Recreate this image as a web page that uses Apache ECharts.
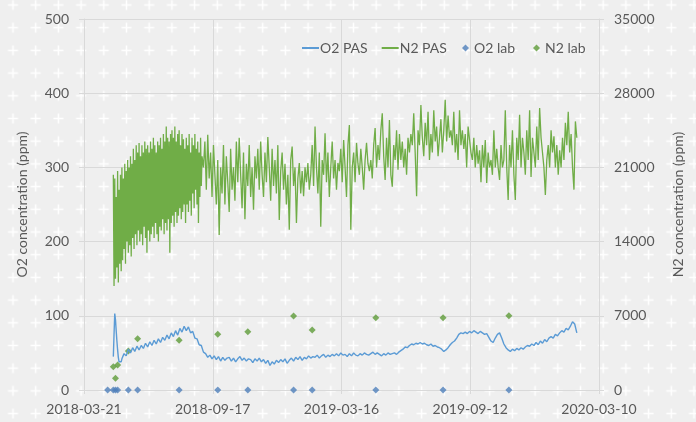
<!DOCTYPE html>
<html>
<head>
<meta charset="utf-8">
<script src="https://cdn.jsdelivr.net/npm/echarts@6/dist/echarts.min.js"></script>
<style>
html,body{margin:0;padding:0;background:#efefef;}
#wrap{position:relative;width:696px;height:422px;background:#efefef;overflow:hidden;}
#chart{position:absolute;left:0;top:0;width:696px;height:422px;z-index:2;}
#underlay{position:absolute;left:0;top:0;pointer-events:none;z-index:1;}
</style>
</head>
<body>
<div id="wrap">
<svg id="underlay" width="696" height="422">
<defs>
<pattern id="cross" x="1.65" y="-6.35" width="22.7" height="22.7" patternUnits="userSpaceOnUse">
<path d="M6.35 11.35 H16.35 M11.35 6.35 V16.35" stroke="#ffffff" stroke-width="1.5" fill="none"/>
</pattern>
</defs>
<rect x="0" y="0" width="696" height="422" fill="url(#cross)"/>
</svg>
<div id="chart"></div>
</div>
<script>
// X axis: days since 2018-03-21, major unit 180 days
const tickLabels = ['2018-03-21', '2018-09-17', '2019-03-16', '2019-09-12', '2020-03-10'];

// O2 PAS (ppm, left axis): daily values from day 41 (start spike)
const o2PasSpikeStart = 41;
const o2PasSpike = [45, 75, 103, 95, 80, 66, 54, 44, 38, 36, 40, 38];
// O2 PAS every 3 days from day 53
const o2Pas3DayStart = 53;
const o2Pas3Day = [
  42, 49, 46, 55, 50, 57, 52, 59, 54, 60,
  56, 63, 58, 65, 60, 67, 62, 69, 64, 71,
  67, 74, 69, 77, 72, 80, 74, 83, 78, 86,
  80, 85, 77, 79, 70, 69, 61, 60, 51, 49,
  44, 47, 42, 46, 41, 45, 39, 44, 40, 43,
  44, 39, 43, 38, 42, 45, 40, 43, 39, 42,
  41, 37, 42, 39, 43, 38, 41, 36, 40, 33,
  38, 35, 40, 37, 41, 38, 42, 36, 40, 43,
  39, 44, 41, 45, 40, 44, 42, 46, 43, 45,
  44, 47, 43, 46, 48, 44, 47, 45, 48, 46,
  49, 46, 50, 47, 48, 45, 49, 46, 50, 47,
  46, 49, 47, 50, 48, 47, 49, 51, 48, 50,
  48, 46, 49, 47, 50, 48, 49, 50, 48, 51,
  53, 55, 58, 57, 60, 62, 61, 63, 62, 64,
  62, 63, 61, 60, 62, 59, 60, 58, 57, 55,
  52, 54, 57, 61, 64, 66, 70, 75, 77, 76,
  78, 76, 79, 77, 80, 78, 76, 79, 77, 75,
  76, 71, 66, 64, 70, 75, 77, 70, 62, 57,
  54, 52, 55, 53, 56, 54, 57, 55, 58, 60,
  59, 62, 60, 64, 61, 66, 63, 68, 65, 70,
  72, 70, 75, 73, 77, 80, 78, 83, 81, 86,
  92, 89, 77
];

// N2 PAS (ppm, right axis): daily values from day 41
const n2PasDailyStart = 41;
const n2PasDaily = [
  20300, 9800, 19950, 10500, 18200, 11550, 20650, 10150, 18900, 11900,
  20300, 11200, 21000, 12250, 19950, 13300, 21350, 11900, 20650, 14000,
  21700, 12950, 21000, 13650, 22050, 12600, 21350, 14350, 22750, 13300,
  21700, 14700, 23100, 13650, 22400, 15050, 23310, 14000, 22050, 14700,
  23100, 13650, 22400, 15400, 23450, 14350, 22750, 12950, 23100, 15050,
  22400, 14000, 23450, 14700, 22750, 15400, 23800, 14350, 23100, 15750,
  22400, 14700, 23450, 14000, 23100, 15400, 23800, 15050, 22750, 16100,
  24150, 14700, 23450, 15750, 24850, 15050, 23800, 16100, 23450, 12950,
  24150, 15750, 24500, 16450, 23800, 15400, 24850, 16800, 23450, 15750,
  24150, 16450, 24500, 17150, 23100, 16100, 24150, 16800, 23660, 17500,
  22750, 15750, 23800, 17500, 23100, 16800, 24150, 17850, 22400, 16450,
  23800, 18550, 23100, 17150, 24150, 18900, 22750, 17500, 23450, 15750,
  22400, 18200, 23800, 19250, 22050
];
// N2 PAS every 2 days from day 167
const n2PasBiDailyStart = 167;
const n2PasBiDaily = [
  21000, 23450, 18900, 24080, 19950, 22400, 18200, 23100, 20300, 17500,
  21700, 14630, 21000, 18550, 23100, 17500, 22050, 19600, 16800, 22750,
  18900, 21000, 17850, 23450, 19600, 23800, 20300, 17150, 22400, 16100,
  21350, 19250, 23100, 18200, 21000, 17010, 22050, 19950, 22750, 18900,
  23450, 20300, 18200, 22400, 19600, 23870, 21000, 17850, 22750, 19250,
  21700, 18550, 23100, 16030, 20650, 22400, 18900, 21350, 17500, 20300,
  15120, 21700, 22960, 19250, 21000, 15750, 19950, 21420, 18550, 20650,
  18270, 21000, 19600, 21420, 18900, 20300, 23100, 19250, 24850, 21000,
  18550, 22400, 15400, 21700, 20300, 24220, 19600, 22400, 18200, 21000,
  23450, 19950, 21700, 18900, 21420, 20650, 22750, 19600, 23590, 21000,
  18200, 23100, 24990, 15120, 21000, 22400, 19600, 23310, 21350, 20300,
  22750, 21000, 18900, 21700, 23310, 21350, 20650, 21700, 19950, 23100,
  24710, 21000, 23100, 21700, 24500, 26110, 22050, 19810, 23800, 21000,
  25480, 20300, 19180, 23100, 21700, 24500, 20790, 24150, 21700, 23450,
  21000, 22750, 20300, 23800, 22400, 24150, 23100, 26110, 22400, 18270,
  24500, 23100, 26880, 23800, 22050, 25200, 23100, 26250, 21700, 24150,
  22400, 26390, 23450, 24850, 22050, 23800, 25550, 22400, 24500, 27370,
  23450, 25900, 23800, 24500, 23100, 26250, 22400, 24150, 21700, 26390,
  23100, 24500, 22750, 24150, 21000, 24850, 24990, 22400, 21700, 23800,
  21000, 23100, 21350, 22610, 19600, 23100, 21000, 23590, 19530, 22400,
  21000, 21700, 20300, 24500, 21000, 22750, 21000, 19810, 23100, 21000,
  21700, 26390, 21000, 17920, 23100, 21000, 24500, 20300, 17920, 23800,
  21700, 25970, 21000, 23800, 22400, 20300, 24500, 21700, 26390, 20090,
  23800, 22400, 21000, 24850, 21700, 26600, 23800, 22400, 21000, 18410,
  21700, 23100, 21000, 24500, 22400, 23940, 21000, 23100, 20300, 22610,
  21000, 23800, 21700, 25200, 23100, 26250, 22400, 24150, 21000, 18900,
  25340, 23800
];

// Lab samples (days since 2018-03-21)
const o2LabDays = [33, 41, 44, 47, 62, 75, 133, 187, 229, 293, 319, 408, 502, 594];
const o2LabValues = [0, 0, 0, 0, 0, 0, 0, 0, 0, 0, 0, 0, 0, 0];
const n2LabDays = [41, 44, 47, 62, 75, 133, 187, 229, 293, 319, 408, 502, 594];
const n2LabValues = [2200, 1100, 2360, 3680, 4840, 4690, 5260, 5500, 6980, 5660, 6820, 6820, 7000];

function sampled(start, step, vals) { return vals.map((v, i) => [start + i * step, v]); }
function pairs(xs, ys) { return xs.map((x, i) => [x, ys[i]]); }

const o2PasData = sampled(o2PasSpikeStart, 1, o2PasSpike).concat(sampled(o2Pas3DayStart, 3, o2Pas3Day));
const n2PasData = sampled(n2PasDailyStart, 1, n2PasDaily).concat(sampled(n2PasBiDailyStart, 2, n2PasBiDaily));

const FONT = 'Lato';
const TXT = '#595959';
const GRID = '#d9d9d9';
const C_O2 = '#5b9bd5', C_N2 = '#70ad47', C_O2LAB = '#4f7fba', C_N2LAB = '#5e9b38';

const chart = echarts.init(document.getElementById('chart'), null, {renderer: 'canvas'});
chart.setOption({
  animation: false,
  backgroundColor: 'transparent',
  textStyle: {fontFamily: FONT},
  grid: {left: 84, right: 97, top: 19, bottom: 32, containLabel: false},
  legend: [
    {
      data: [
        {name: 'O2 PAS', icon: 'rect', itemStyle: {color: C_O2}},
        {name: 'N2 PAS', icon: 'rect', itemStyle: {color: C_N2}}
      ],
      left: 297, top: 36,
      itemWidth: 17, itemHeight: 2, itemGap: 14,
      textStyle: {color: TXT, fontSize: 14, fontFamily: FONT, padding: [0, 0, 0, -4]}
    },
    {
      data: [
        {name: 'O2 lab', icon: 'diamond', itemStyle: {color: C_O2LAB}},
        {name: 'N2 lab', icon: 'diamond', itemStyle: {color: C_N2LAB}}
      ],
      left: 457, top: 36,
      itemWidth: 7, itemHeight: 7, itemGap: 18,
      textStyle: {color: TXT, fontSize: 14, fontFamily: FONT}
    }
  ],
  xAxis: {
    type: 'value', min: 0, max: 720, interval: 180,
    axisLine: {show: true, lineStyle: {color: GRID}},
    axisTick: {show: true, length: 4, lineStyle: {color: GRID}},
    splitLine: {show: true, lineStyle: {color: GRID, width: 1}},
    axisLabel: {
      color: TXT, fontSize: 14, fontFamily: FONT, margin: 12,
      formatter: v => tickLabels[Math.round(v / 180)] || ''
    }
  },
  yAxis: [
    {
      type: 'value', min: 0, max: 500, interval: 100, position: 'left',
      name: 'O2 concentration (ppm)', nameLocation: 'middle', nameRotate: 90, nameGap: 55,
      nameTextStyle: {color: TXT, fontSize: 14, fontFamily: FONT},
      axisLine: {show: true, lineStyle: {color: GRID}},
      axisTick: {show: true, length: 5, lineStyle: {color: GRID}},
      splitLine: {show: true, lineStyle: {color: GRID, width: 1}},
      axisLabel: {color: TXT, fontSize: 14, fontFamily: FONT, margin: 15, formatter: v => String(v)}
    },
    {
      type: 'value', min: 0, max: 35000, interval: 7000, position: 'right',
      name: 'N2 concentration (ppm)', nameLocation: 'middle', nameRotate: 90, nameGap: 72,
      nameTextStyle: {color: TXT, fontSize: 14, fontFamily: FONT},
      axisLine: {show: true, lineStyle: {color: GRID}},
      axisTick: {show: true, length: 5, lineStyle: {color: GRID}},
      splitLine: {show: false},
      axisLabel: {color: TXT, fontSize: 14, fontFamily: FONT, margin: 15, formatter: v => String(v)}
    }
  ],
  series: [
    {
      name: 'O2 PAS', type: 'line', yAxisIndex: 0, data: o2PasData,
      symbol: 'none', color: C_O2,
      lineStyle: {width: 1.4, color: C_O2}
    },
    {
      name: 'N2 PAS', type: 'line', yAxisIndex: 1, data: n2PasData,
      symbol: 'none', color: C_N2,
      lineStyle: {width: 1.3, color: C_N2}
    },
    {
      name: 'O2 lab', type: 'scatter', yAxisIndex: 0, data: pairs(o2LabDays, o2LabValues),
      symbol: 'diamond', symbolSize: 7, color: C_O2LAB, clip: false,
      itemStyle: {color: C_O2LAB}
    },
    {
      name: 'N2 lab', type: 'scatter', yAxisIndex: 1, data: pairs(n2LabDays, n2LabValues),
      symbol: 'diamond', symbolSize: 7, color: C_N2LAB, clip: false,
      itemStyle: {color: C_N2LAB}
    }
  ]
});
</script>
</body>
</html>
